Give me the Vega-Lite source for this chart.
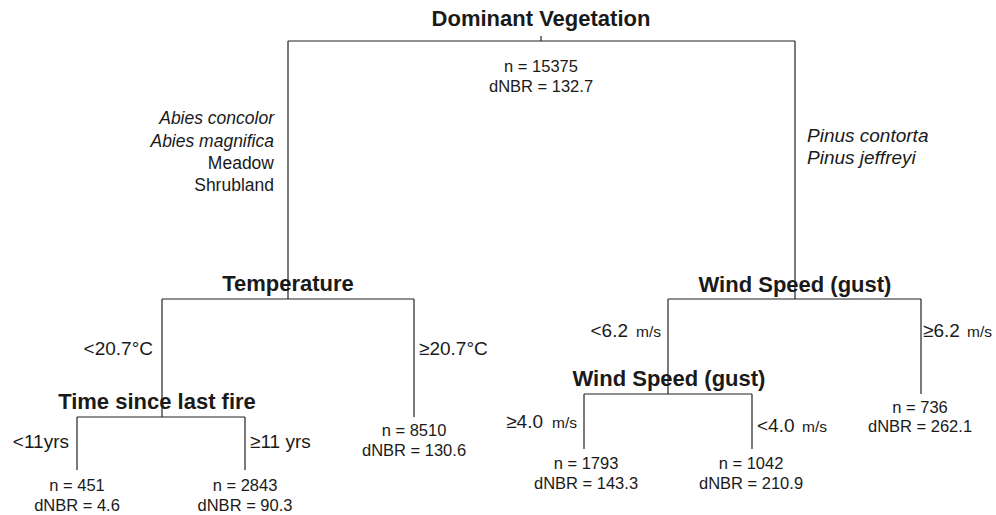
{
  "$schema": "https://vega.github.io/schema/vega-lite/v6.json",
  "width": 996,
  "height": 515,
  "autosize": {"type": "fit", "contains": "padding"},
  "padding": 0,
  "background": "white",
  "config": {"view": {"stroke": null}, "font": "Liberation Sans", "text": {"color": "#1a1a1a"}},
  "datasets": {
    "edges": [
      {"x": 541, "y": 36, "x2": 541, "y2": 41},
      {"x": 288, "y": 41, "x2": 795, "y2": 41},
      {"x": 288, "y": 41, "x2": 288, "y2": 299},
      {"x": 795, "y": 41, "x2": 795, "y2": 299},
      {"x": 162, "y": 299, "x2": 414, "y2": 299},
      {"x": 162, "y": 299, "x2": 162, "y2": 417},
      {"x": 414, "y": 299, "x2": 414, "y2": 417},
      {"x": 77, "y": 417, "x2": 245, "y2": 417},
      {"x": 77, "y": 417, "x2": 77, "y2": 470},
      {"x": 245, "y": 417, "x2": 245, "y2": 470},
      {"x": 668, "y": 299, "x2": 921, "y2": 299},
      {"x": 668, "y": 299, "x2": 668, "y2": 394},
      {"x": 921, "y": 299, "x2": 921, "y2": 394},
      {"x": 584, "y": 394, "x2": 752, "y2": 394},
      {"x": 584, "y": 394, "x2": 584, "y2": 449},
      {"x": 752, "y": 394, "x2": 752, "y2": 449}
    ],
    "labels": [
      {"kind": "title", "x": 541, "y": 19, "text": "Dominant Vegetation"},
      {"kind": "title", "x": 288, "y": 284, "text": "Temperature"},
      {"kind": "title", "x": 157, "y": 402, "text": "Time since last fire"},
      {"kind": "title", "x": 795, "y": 285, "text": "Wind Speed (gust)"},
      {"kind": "title", "x": 669, "y": 379, "text": "Wind Speed (gust)"},
      {"kind": "stat", "x": 541, "y": 67, "text": "n = 15375"},
      {"kind": "stat", "x": 541, "y": 87, "text": "dNBR = 132.7"},
      {"kind": "stat", "x": 414, "y": 431, "text": "n = 8510"},
      {"kind": "stat", "x": 414, "y": 451, "text": "dNBR = 130.6"},
      {"kind": "stat", "x": 77, "y": 486, "text": "n = 451"},
      {"kind": "stat", "x": 77, "y": 506, "text": "dNBR = 4.6"},
      {"kind": "stat", "x": 245, "y": 486, "text": "n = 2843"},
      {"kind": "stat", "x": 245, "y": 506, "text": "dNBR = 90.3"},
      {"kind": "stat", "x": 586, "y": 464, "text": "n = 1793"},
      {"kind": "stat", "x": 586, "y": 484, "text": "dNBR = 143.3"},
      {"kind": "stat", "x": 751, "y": 464, "text": "n = 1042"},
      {"kind": "stat", "x": 751, "y": 484, "text": "dNBR = 210.9"},
      {"kind": "stat", "x": 920, "y": 408, "text": "n = 736"},
      {"kind": "stat", "x": 920, "y": 427, "text": "dNBR = 262.1"},
      {"kind": "splitL", "x": 153, "y": 349, "text": "<20.7°C"},
      {"kind": "splitR", "x": 419, "y": 349, "text": "≥20.7°C"},
      {"kind": "splitL", "x": 69, "y": 442, "text": "<11yrs"},
      {"kind": "splitR", "x": 250, "y": 442, "text": "≥11 yrs"},
      {"kind": "splitL", "x": 628, "y": 331, "text": "<6.2"},
      {"kind": "unitL", "x": 661, "y": 332, "text": "m/s"},
      {"kind": "splitR", "x": 923, "y": 331, "text": "≥6.2"},
      {"kind": "unitR", "x": 967, "y": 332, "text": "m/s"},
      {"kind": "splitL", "x": 543, "y": 422, "text": "≥4.0"},
      {"kind": "unitL", "x": 577, "y": 423, "text": "m/s"},
      {"kind": "splitR", "x": 757, "y": 426, "text": "<4.0"},
      {"kind": "unitR", "x": 802, "y": 427, "text": "m/s"},
      {"kind": "italL", "x": 274, "y": 119, "text": "Abies concolor"},
      {"kind": "italL", "x": 274, "y": 142, "text": "Abies magnifica"},
      {"kind": "plainL", "x": 274, "y": 164, "text": "Meadow"},
      {"kind": "plainL", "x": 274, "y": 186, "text": "Shrubland"},
      {"kind": "italR", "x": 807, "y": 136, "text": "Pinus contorta"},
      {"kind": "italR", "x": 807, "y": 158, "text": "Pinus jeffreyi"}
    ]
  },
  "encoding": {
    "x": {"field": "x", "type": "quantitative", "scale": {"domain": [0, 996], "nice": false, "zero": false}, "axis": null},
    "y": {"field": "y", "type": "quantitative", "scale": {"domain": [0, 515], "nice": false, "zero": false, "reverse": true}, "axis": null}
  },
  "layer": [
    {
      "data": {"name": "edges"},
      "mark": {"type": "rule", "color": "#222222", "strokeWidth": 1.2},
      "encoding": {"x2": {"field": "x2"}, "y2": {"field": "y2"}}
    },
    {
      "data": {"name": "labels"},
      "transform": [{"filter": "datum.kind === 'title'"}],
      "mark": {"type": "text", "fontWeight": "bold", "fontSize": 22, "align": "center", "baseline": "middle"},
      "encoding": {"text": {"field": "text"}}
    },
    {
      "data": {"name": "labels"},
      "transform": [{"filter": "datum.kind === 'stat'"}],
      "mark": {"type": "text", "fontSize": 16.5, "align": "center", "baseline": "middle"},
      "encoding": {"text": {"field": "text"}}
    },
    {
      "data": {"name": "labels"},
      "transform": [{"filter": "datum.kind === 'splitL'"}],
      "mark": {"type": "text", "fontSize": 19, "align": "right", "baseline": "middle"},
      "encoding": {"text": {"field": "text"}}
    },
    {
      "data": {"name": "labels"},
      "transform": [{"filter": "datum.kind === 'splitR'"}],
      "mark": {"type": "text", "fontSize": 19, "align": "left", "baseline": "middle"},
      "encoding": {"text": {"field": "text"}}
    },
    {
      "data": {"name": "labels"},
      "transform": [{"filter": "datum.kind === 'unitL'"}],
      "mark": {"type": "text", "fontSize": 15.5, "align": "right", "baseline": "middle"},
      "encoding": {"text": {"field": "text"}}
    },
    {
      "data": {"name": "labels"},
      "transform": [{"filter": "datum.kind === 'unitR'"}],
      "mark": {"type": "text", "fontSize": 15.5, "align": "left", "baseline": "middle"},
      "encoding": {"text": {"field": "text"}}
    },
    {
      "data": {"name": "labels"},
      "transform": [{"filter": "datum.kind === 'italL'"}],
      "mark": {"type": "text", "fontSize": 17.5, "fontStyle": "italic", "align": "right", "baseline": "middle"},
      "encoding": {"text": {"field": "text"}}
    },
    {
      "data": {"name": "labels"},
      "transform": [{"filter": "datum.kind === 'italR'"}],
      "mark": {"type": "text", "fontSize": 19, "fontStyle": "italic", "align": "left", "baseline": "middle"},
      "encoding": {"text": {"field": "text"}}
    },
    {
      "data": {"name": "labels"},
      "transform": [{"filter": "datum.kind === 'plainL'"}],
      "mark": {"type": "text", "fontSize": 17.5, "align": "right", "baseline": "middle"},
      "encoding": {"text": {"field": "text"}}
    }
  ]
}
